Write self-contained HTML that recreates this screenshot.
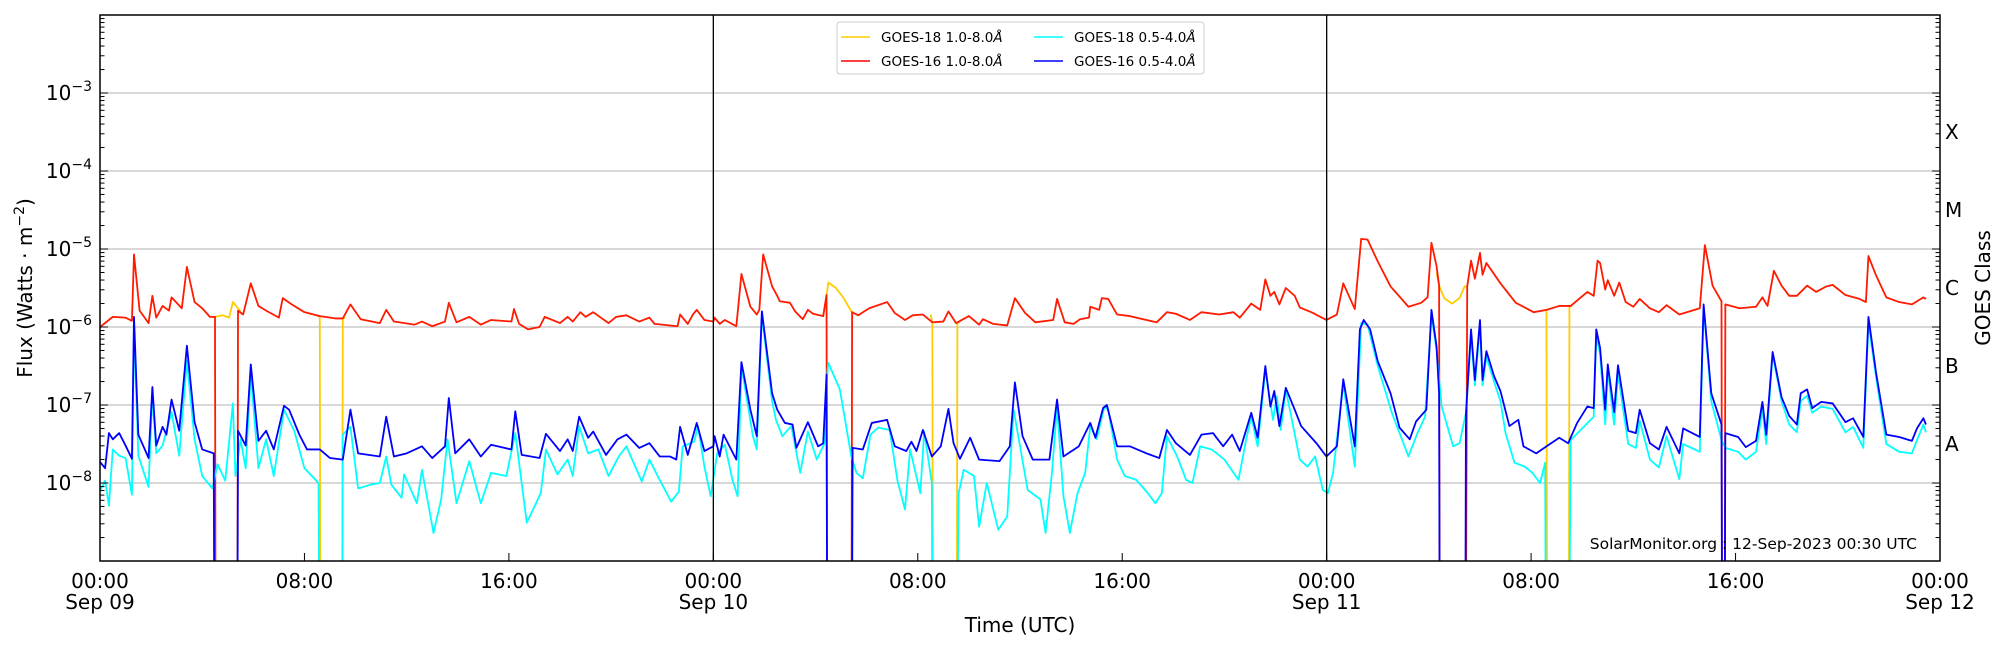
<!DOCTYPE html>
<html><head><meta charset="utf-8"><title>GOES X-ray Flux</title>
<style>
html,body{margin:0;padding:0;background:#fff;}
svg{display:block;font-family:"DejaVu Sans","Liberation Sans",sans-serif;}
</style></head>
<body>
<svg id="chart" width="2000" height="650" viewBox="0 0 2000 650" xmlns="http://www.w3.org/2000/svg">
<defs><clipPath id="plotclip"><rect x="100" y="15" width="1840" height="546"/></clipPath></defs>
<rect x="0" y="0" width="2000" height="650" fill="#fff"/>
<g id="grid"></g>
<g id="series" clip-path="url(#plotclip)"></g>
<g id="axes"></g>
<text x="1917" y="549" font-size="15.5" text-anchor="end" fill="#000">SolarMonitor.org : 12-Sep-2023 00:30 UTC</text>
<text transform="translate(32,288) rotate(-90)" font-size="20" text-anchor="middle">Flux (Watts · m<tspan dy="-8" font-size="14">−2</tspan><tspan dy="8">)</tspan></text>
<text transform="translate(1990,288) rotate(-90)" font-size="20" text-anchor="middle">GOES Class</text>
<text x="1020" y="632" font-size="20" text-anchor="middle">Time (UTC)</text>
<g>
<rect x="837" y="22" width="367" height="52" rx="3" fill="#fff" stroke="#ccc" stroke-width="1"/>
<g><line x1="841" y1="37" x2="870" y2="37" stroke="#ffcc00" stroke-width="1.5"/><text x="881" y="42" font-size="13.5">GOES-18 1.0-8.0<tspan font-style="italic">Å</tspan></text></g>
<g><line x1="841" y1="61" x2="870" y2="61" stroke="#ff0000" stroke-width="1.5"/><text x="881" y="66" font-size="13.5">GOES-16 1.0-8.0<tspan font-style="italic">Å</tspan></text></g>
<g><line x1="1034" y1="37" x2="1063" y2="37" stroke="#00ffff" stroke-width="1.5"/><text x="1074" y="42" font-size="13.5">GOES-18 0.5-4.0<tspan font-style="italic">Å</tspan></text></g>
<g><line x1="1034" y1="61" x2="1063" y2="61" stroke="#0000ff" stroke-width="1.5"/><text x="1074" y="66" font-size="13.5">GOES-16 0.5-4.0<tspan font-style="italic">Å</tspan></text></g>
</g>
</svg>
<script>
// ---- data (hours since 2023-09-09 00:00 UTC, log10 flux in W/m^2; -12 = data dropout) ----
const redT = [0,0.5,1.0,1.25,1.33,1.55,1.9,2.05,2.2,2.45,2.7,2.8,3.2,3.4,3.7,4.0,4.3,4.5,4.52,5.38,5.4,5.6,5.9,6.2,6.5,7.0,7.15,7.5,8.0,8.6,9.2,9.5,9.8,10.2,10.95,11.2,11.5,12.3,12.6,13.0,13.5,13.65,13.95,14.45,14.9,15.3,16.1,16.2,16.4,16.75,17.2,17.4,18.0,18.3,18.5,18.8,19.0,19.3,19.9,20.2,20.6,21.1,21.5,21.7,22.6,22.7,23.0,23.2,23.35,23.65,24.0,24.05,24.25,24.45,24.9,25.1,25.45,25.7,25.8,25.95,26.3,26.5,26.6,27.0,27.2,27.5,27.7,27.9,28.3,28.43,28.45,29.41,29.43,29.67,30.1,30.8,31.1,31.5,31.8,32.2,32.57,33.0,33.2,33.5,34.0,34.4,34.55,34.95,35.5,35.8,36.2,36.6,37.3,37.45,37.75,38.1,38.35,38.7,38.75,39.1,39.2,39.45,39.8,40.3,40.95,41.35,41.75,42.1,42.65,43.1,43.8,44.35,44.6,45.05,45.4,45.6,45.8,45.95,46.15,46.4,46.75,46.95,47.4,47.99,48.4,48.65,49.1,49.35,49.6,50.0,50.5,51.2,51.7,51.95,52.1,52.3,52.4,52.42,53.45,53.5,53.65,53.8,54.0,54.1,54.25,54.8,55.4,56.1,56.6,57.1,57.55,58.2,58.45,58.6,58.7,58.9,59.0,59.25,59.45,59.7,60.0,60.25,60.65,61.0,61.3,61.8,62.6,62.8,63.1,63.45,63.47,63.58,63.6,64.15,64.8,65.05,65.25,65.5,65.8,66.1,66.4,66.8,67.15,67.55,67.8,68.3,68.85,69.1,69.2,69.5,69.9,70.4,70.9,71.35,71.45];
const redV = [-6.0,-5.87,-5.88,-5.92,-5.07,-5.79,-5.95,-5.6,-5.88,-5.73,-5.79,-5.62,-5.76,-5.23,-5.68,-5.76,-5.87,-5.87,-12,-12,-5.79,-5.84,-5.44,-5.73,-5.79,-5.88,-5.63,-5.71,-5.81,-5.86,-5.89,-5.89,-5.71,-5.9,-5.95,-5.78,-5.93,-5.97,-5.93,-5.99,-5.93,-5.69,-5.94,-5.87,-5.97,-5.91,-5.93,-5.77,-5.96,-6.03,-6.0,-5.87,-5.95,-5.87,-5.93,-5.81,-5.87,-5.81,-5.95,-5.87,-5.85,-5.93,-5.88,-5.96,-5.99,-5.84,-5.96,-5.84,-5.78,-5.91,-5.93,-5.88,-5.96,-5.91,-5.99,-5.32,-5.74,-5.84,-5.78,-5.07,-5.48,-5.6,-5.67,-5.69,-5.8,-5.9,-5.78,-5.83,-5.86,-5.59,-12,-12,-5.81,-5.85,-5.76,-5.68,-5.82,-5.91,-5.85,-5.84,-5.94,-5.93,-5.8,-5.95,-5.86,-5.97,-5.9,-5.96,-5.98,-5.63,-5.82,-5.94,-5.91,-5.64,-5.94,-5.96,-5.9,-5.88,-5.74,-5.78,-5.63,-5.64,-5.84,-5.86,-5.91,-5.94,-5.81,-5.83,-5.91,-5.81,-5.84,-5.81,-5.88,-5.7,-5.78,-5.39,-5.6,-5.55,-5.71,-5.5,-5.6,-5.75,-5.81,-5.91,-5.84,-5.44,-5.77,-4.87,-4.88,-5.16,-5.48,-5.74,-5.69,-5.62,-4.92,-5.22,-5.47,-12,-12,-5.48,-5.15,-5.38,-5.05,-5.33,-5.18,-5.44,-5.69,-5.81,-5.78,-5.73,-5.73,-5.55,-5.6,-5.15,-5.18,-5.52,-5.4,-5.6,-5.43,-5.68,-5.74,-5.64,-5.76,-5.81,-5.72,-5.84,-5.76,-4.95,-5.47,-5.67,-12,-12,-5.71,-5.76,-5.74,-5.62,-5.73,-5.28,-5.47,-5.6,-5.6,-5.47,-5.55,-5.48,-5.46,-5.59,-5.64,-5.68,-5.09,-5.34,-5.62,-5.68,-5.71,-5.62,-5.64];

// GOES-18 long channel: segments visible where GOES-16 is missing, plus its own dropouts (null separates segments)
const yellowT = [4.4,4.5,4.8,5.05,5.2,5.4,5.5,null,8.5,8.6,8.62,null,9.48,9.5,9.6,null,28.3,28.43,28.5,28.8,29.1,29.4,29.5,null,32.5,32.57,32.59,null,33.53,33.55,33.65,null,52.3,52.4,52.6,52.9,53.2,53.4,53.5,null,56.55,56.6,56.62,null,57.48,57.5,57.6];
const yellowV = [-5.87,-5.87,-5.85,-5.88,-5.68,-5.76,-5.8,null,-5.86,-5.86,-12,null,-12,-5.89,-5.88,null,-5.86,-5.59,-5.43,-5.5,-5.63,-5.8,-5.82,null,-5.84,-5.94,-12,null,-12,-5.95,-5.93,null,-5.3,-5.47,-5.63,-5.7,-5.63,-5.48,-5.48,null,-5.78,-5.78,-12,null,-12,-5.74,-5.73];

const blueT = [0,0.2,0.35,0.5,0.75,1.0,1.25,1.33,1.5,1.9,2.05,2.2,2.45,2.6,2.8,3.1,3.4,3.7,4.0,4.45,4.47,5.38,5.4,5.7,5.9,6.2,6.5,6.8,7.2,7.4,7.8,8.1,8.6,9.0,9.5,9.8,10.1,10.95,11.2,11.5,12.0,12.6,13.0,13.5,13.65,13.9,14.45,14.9,15.3,16.1,16.25,16.5,17.2,17.45,18.0,18.3,18.5,18.75,19.1,19.3,19.8,20.25,20.6,21.1,21.5,21.9,22.3,22.55,22.7,23.0,23.35,23.65,24.0,24.05,24.25,24.4,24.9,25.1,25.45,25.7,25.9,26.3,26.5,26.8,27.1,27.25,27.7,28.1,28.3,28.43,28.45,29.43,29.45,29.85,30.2,30.8,31.1,31.55,31.75,31.95,32.2,32.55,32.9,33.2,33.4,33.65,34.05,34.4,35.2,35.6,35.8,36.1,36.5,37.15,37.45,37.7,38.3,38.75,38.95,39.25,39.4,39.8,40.3,40.95,41.45,41.75,42.1,42.65,43.1,43.55,43.95,44.3,44.6,45.05,45.3,45.6,45.8,45.95,46.15,46.4,46.75,47.0,47.6,47.99,48.4,48.65,49.1,49.3,49.45,49.7,50.0,50.5,50.85,51.25,51.5,51.9,52.1,52.3,52.4,52.42,53.43,53.45,53.65,53.8,54.0,54.1,54.25,54.55,54.8,55.15,55.5,55.7,56.2,56.6,57.1,57.45,57.8,58.2,58.45,58.55,58.7,58.9,59.0,59.25,59.4,59.8,60.1,60.25,60.65,61.0,61.3,61.8,61.95,62.6,62.75,63.05,63.45,63.47,63.58,63.6,64.1,64.4,64.8,65.05,65.2,65.45,65.8,66.1,66.4,66.55,66.8,67.0,67.35,67.8,68.3,68.6,69.0,69.2,69.5,69.9,70.4,70.9,71.1,71.35,71.45];
const blueV = [-7.73,-7.81,-7.36,-7.44,-7.36,-7.52,-7.69,-5.87,-7.38,-7.68,-6.77,-7.52,-7.28,-7.38,-6.93,-7.33,-6.24,-7.22,-7.57,-7.62,-12,-12,-7.33,-7.52,-6.48,-7.46,-7.33,-7.57,-7.01,-7.06,-7.38,-7.57,-7.57,-7.68,-7.7,-7.06,-7.62,-7.66,-7.15,-7.66,-7.62,-7.53,-7.68,-7.53,-6.91,-7.62,-7.44,-7.66,-7.51,-7.57,-7.08,-7.64,-7.68,-7.37,-7.59,-7.44,-7.59,-7.15,-7.42,-7.34,-7.64,-7.44,-7.38,-7.55,-7.49,-7.66,-7.66,-7.7,-7.28,-7.64,-7.23,-7.59,-7.53,-7.4,-7.66,-7.38,-7.7,-6.45,-7.06,-7.4,-5.8,-6.85,-7.06,-7.23,-7.25,-7.55,-7.22,-7.53,-7.49,-6.61,-12,-12,-7.55,-7.57,-7.23,-7.19,-7.53,-7.59,-7.47,-7.59,-7.32,-7.66,-7.53,-7.05,-7.49,-7.69,-7.42,-7.7,-7.72,-7.53,-6.71,-7.4,-7.7,-7.7,-6.93,-7.66,-7.53,-7.23,-7.42,-7.04,-7.0,-7.53,-7.53,-7.62,-7.68,-7.32,-7.49,-7.64,-7.38,-7.36,-7.53,-7.38,-7.59,-7.1,-7.42,-6.5,-7.02,-6.82,-7.27,-6.78,-7.06,-7.27,-7.49,-7.66,-7.53,-6.67,-7.53,-6.03,-5.91,-6.03,-6.44,-6.85,-7.29,-7.44,-7.21,-7.06,-5.78,-6.25,-6.85,-12,-12,-7.12,-6.03,-6.68,-5.91,-6.68,-6.31,-6.63,-6.82,-7.27,-7.19,-7.53,-7.62,-7.53,-7.42,-7.49,-7.23,-7.02,-7.04,-6.03,-6.27,-7.06,-6.48,-7.09,-6.49,-7.33,-7.36,-7.06,-7.49,-7.57,-7.28,-7.62,-7.3,-7.41,-5.71,-6.85,-7.25,-12,-12,-7.36,-7.41,-7.54,-7.46,-6.96,-7.38,-6.32,-6.9,-7.14,-7.25,-6.85,-6.8,-7.04,-6.96,-6.98,-7.22,-7.17,-7.41,-5.87,-6.59,-7.38,-7.41,-7.46,-7.3,-7.17,-7.25];

const cyanT = [0,0.2,0.35,0.5,0.75,1.0,1.25,1.33,1.5,1.9,2.05,2.2,2.45,2.8,3.1,3.4,3.7,4.0,4.4,4.6,4.9,5.2,5.3,5.5,5.7,5.9,6.2,6.5,6.8,7.2,7.6,8.0,8.55,8.58,9.48,9.5,9.8,10.1,10.6,10.95,11.2,11.4,11.8,11.9,12.4,12.6,13.05,13.35,13.6,13.95,14.45,14.9,15.3,15.9,16.25,16.5,16.7,17.25,17.45,17.9,18.3,18.5,18.75,19.1,19.5,19.9,20.3,20.6,21.2,21.5,21.9,22.35,22.65,22.8,23.25,23.4,23.65,23.9,24.15,24.45,24.75,24.95,25.1,25.55,25.7,25.9,26.3,26.45,26.7,27.05,27.4,27.7,28.05,28.35,28.43,28.5,28.95,29.4,29.6,29.85,30.15,30.45,30.9,31.2,31.5,31.7,32.1,32.25,32.55,32.57,33.55,33.6,33.8,34.2,34.4,34.7,35.15,35.5,35.75,36.3,36.8,37.0,37.25,37.45,37.7,37.95,38.25,38.55,38.75,39.0,39.3,39.45,39.8,40.1,40.55,41.0,41.3,41.55,41.75,42.15,42.5,42.75,43.05,43.5,44.0,44.55,44.85,45.05,45.3,45.6,45.9,46.05,46.2,46.4,46.95,47.25,47.55,47.85,48.05,48.25,48.65,48.9,49.1,49.35,49.6,50.0,50.55,51.2,51.55,51.85,52.1,52.3,52.5,52.95,53.2,53.45,53.65,53.8,54.0,54.1,54.25,54.55,54.8,55.0,55.35,55.75,56.05,56.35,56.55,56.57,57.5,57.55,58.0,58.45,58.55,58.7,58.9,59.0,59.25,59.4,59.8,60.1,60.25,60.65,61.0,61.3,61.8,61.95,62.6,62.75,63.05,63.45,63.6,64.1,64.4,64.8,65.05,65.2,65.45,65.8,66.1,66.4,66.55,66.8,67.0,67.35,67.8,68.3,68.6,69.0,69.2,69.5,69.9,70.4,70.9,71.1,71.35,71.45];
const cyanV = [-8.1,-7.97,-8.29,-7.57,-7.65,-7.68,-8.15,-6.0,-7.65,-8.05,-6.85,-7.62,-7.52,-7.09,-7.65,-6.43,-7.44,-7.91,-8.07,-7.76,-7.97,-6.98,-7.91,-7.44,-7.81,-6.59,-7.81,-7.44,-7.91,-7.06,-7.33,-7.81,-8.0,-12,-12,-7.38,-7.28,-8.07,-8.02,-8.0,-7.66,-8.02,-8.19,-7.89,-8.26,-7.83,-8.64,-8.21,-7.44,-8.26,-7.72,-8.26,-7.87,-7.91,-7.36,-8.0,-8.51,-8.13,-7.57,-7.89,-7.7,-7.91,-7.27,-7.62,-7.57,-7.91,-7.66,-7.53,-7.98,-7.7,-7.96,-8.24,-8.11,-7.53,-7.47,-7.27,-7.79,-8.17,-7.62,-7.51,-7.96,-8.17,-6.5,-7.4,-7.57,-5.85,-6.95,-7.19,-7.4,-7.27,-7.87,-7.34,-7.7,-7.49,-6.7,-6.46,-6.8,-7.66,-7.87,-7.94,-7.38,-7.29,-7.32,-7.96,-8.34,-7.57,-8.13,-7.34,-8.0,-12,-12,-8.13,-7.83,-7.91,-8.56,-8.0,-8.6,-8.43,-7.06,-8.09,-8.21,-8.64,-7.87,-7.02,-8.17,-8.64,-8.13,-7.87,-7.27,-7.44,-7.02,-7.06,-7.7,-7.91,-7.96,-8.13,-8.26,-8.13,-7.4,-7.66,-7.96,-8.0,-7.53,-7.57,-7.7,-7.96,-7.44,-7.15,-7.53,-6.55,-7.19,-6.89,-7.32,-6.8,-7.7,-7.79,-7.66,-8.09,-8.13,-7.87,-6.72,-7.32,-7.79,-5.95,-5.97,-6.5,-7.1,-7.66,-7.36,-7.15,-5.85,-6.3,-7.02,-7.53,-7.49,-7.1,-6.1,-6.75,-5.98,-6.75,-6.38,-6.7,-6.95,-7.36,-7.74,-7.79,-7.87,-8.0,-7.74,-12,-12,-7.45,-7.3,-7.15,-6.1,-6.35,-7.25,-6.55,-7.25,-6.6,-7.5,-7.55,-7.2,-7.7,-7.8,-7.4,-7.95,-7.5,-7.6,-5.75,-6.95,-7.45,-7.55,-7.6,-7.7,-7.6,-7.05,-7.5,-6.35,-6.95,-7.25,-7.35,-6.95,-6.88,-7.1,-7.02,-7.05,-7.35,-7.28,-7.55,-5.95,-6.65,-7.5,-7.6,-7.62,-7.45,-7.25,-7.35];

const decadeExps = [-8,-7,-6,-5,-4,-3];
const classLabels = ["A","B","C","M","X"];
const classExps = [-8,-7,-6,-5,-4];
const xTickHours = [0,8,16,24,32,40,48,56,64,72];
const xTickTimes = ["00:00","08:00","16:00","00:00","08:00","16:00","00:00","08:00","16:00","00:00"];
const xTickDates = ["Sep 09","","","Sep 10","","","Sep 11","","","Sep 12"];
const dayLineHours = [24,48];

// ---- axis functions ----
const X0=100, X1=1940, Y0=15, Y1=561, LMIN=-9, LMAX=-2, TMAX=72;
const NS="http://www.w3.org/2000/svg";
function xS(t){return X0 + t*(X1-X0)/TMAX;}
function yS(l){return Y1 - (l-LMIN)*(Y1-Y0)/(LMAX-LMIN);}
function mk(tag, attrs, parent){const e=document.createElementNS(NS,tag);for(const k in attrs)e.setAttribute(k,attrs[k]);parent.appendChild(e);return e;}

const grid=document.getElementById('grid'), series=document.getElementById('series'), axes=document.getElementById('axes');

decadeExps.forEach(function(d){
  const g=mk('line',{x1:X0,x2:X1,y1:yS(d),y2:yS(d),stroke:'#b0b0b0','stroke-width':1},grid);
  
  
});

function drawSeries(ts, vs, color, name){
  let segs=[], cur=[];
  for(let i=0;i<ts.length;i++){
    if(ts[i]===null||vs[i]===null){ if(cur.length) segs.push(cur); cur=[]; continue; }
    const v=Math.max(vs[i],-9.6);
    cur.push(xS(ts[i]).toFixed(2)+','+yS(v).toFixed(2));
  }
  if(cur.length) segs.push(cur);
  segs.forEach(function(s){
    const p=mk('polyline',{points:s.join(' '),fill:'none',stroke:color,'stroke-width':1.8,'stroke-linejoin':'round'},series);
    
    
  });
}
drawSeries(yellowT,yellowV,'#ffcc00','goes18-long-line');
drawSeries(redT,redV,'#ff1a00','goes16-long-line');
drawSeries(cyanT,cyanV,'#00ffff','goes18-short-line');
drawSeries(blueT,blueV,'#0000ff','goes16-short-line');

dayLineHours.forEach(function(h){
  const l=mk('line',{x1:xS(h),x2:xS(h),y1:Y0,y2:Y1,stroke:'#000','stroke-width':1.3},axes);
  
  
});

// frame
const fr=mk('rect',{x:X0,y:Y0,width:X1-X0,height:Y1-Y0,fill:'none',stroke:'#000','stroke-width':1.5},axes);



// y ticks (major + minor, both sides, inward)
for(let d=LMIN; d<LMAX; d++){
  for(let m=1;m<=9;m++){
    const l=d+Math.log10(m); const y=yS(l);
    const len = (m===1)?8:4.5;
    mk('line',{x1:X0,x2:X0+len,y1:y,y2:y,stroke:'#000','stroke-width':1},axes);
    mk('line',{x1:X1,x2:X1-len,y1:y,y2:y,stroke:'#000','stroke-width':1},axes);
  }
}
decadeExps.forEach(function(d){
  const t=mk('text',{x:X0-8,y:yS(d)+7,'font-size':20,'text-anchor':'end'},axes);
  
  
  t.innerHTML='10<tspan dy="-9" font-size="14">−'+(-d)+'</tspan>';
});
classLabels.forEach(function(c,i){
  const t=mk('text',{x:X1+5,y:yS(classExps[i]+0.5)+7,'font-size':20},axes);
  
  
  t.textContent=c;
});
// x ticks
xTickHours.forEach(function(h,i){
  const x=xS(h);
  mk('line',{x1:x,x2:x,y1:Y1,y2:Y1-8,stroke:'#000','stroke-width':1},axes);
  const t=mk('text',{x:x,y:588,'font-size':20,'text-anchor':'middle'},axes);
  
  
  t.textContent=xTickTimes[i];
  if(xTickDates[i]){
    const t2=mk('text',{x:x,y:609,'font-size':20,'text-anchor':'middle'},axes);
    
    
    t2.textContent=xTickDates[i];
  }
});
</script>
</body></html>
